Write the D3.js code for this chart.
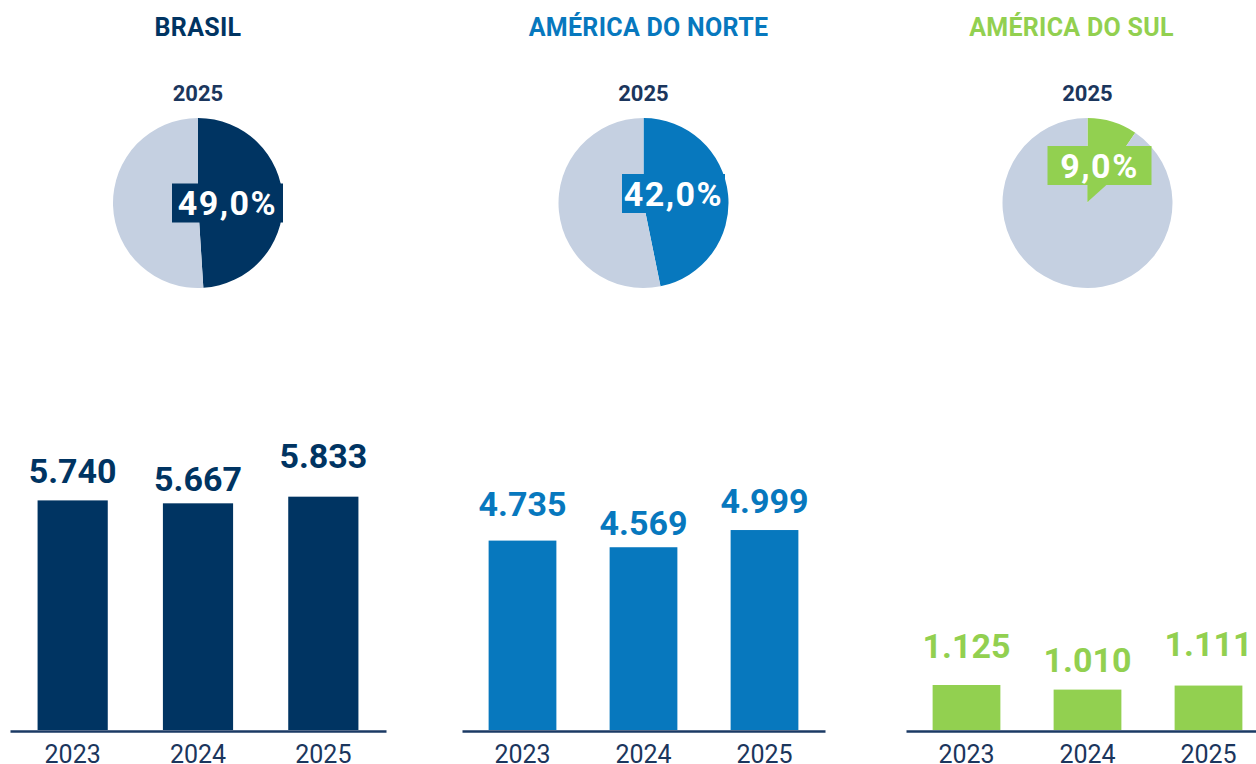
<!DOCTYPE html>
<html>
<head>
<meta charset="utf-8">
<script src="https://cdn.jsdelivr.net/npm/d3@7"></script>
<style>
    html, body { margin: 0; padding: 0; background: #fff; overflow: hidden; }
    svg { display: block; font-family: Roboto, 'Noto Sans', sans-serif; }
</style>
</head>
<body>
<svg class="chart" width="1256" height="764"></svg>
<script>
//#region Data
const years = ['2023', '2024', '2025'];
const regions = ['BRASIL', 'AMÉRICA DO NORTE', 'AMÉRICA DO SUL'];
const brasilValues = [5740, 5667, 5833];
const norteValues = [4735, 4569, 4999];
const sulValues = [1125, 1010, 1111];
const shareYear = '2025';
// printed share labels
const shares = [49.0, 42.0, 9.0];
// slice sizes as drawn in the picture (North America slice is drawn larger than its label)
const pieSlices = [49.0, 46.8, 9.5];
//#endregion

//#region Layout
const navy = '#003462';
const lightSlice = '#c5d0e1';
const panels = [
    { name: regions[0], values: brasilValues, share: shares[0], slice: pieSlices[0], color: navy,
      range: [10, 386], titleDx: 0, gaps: [17, 12, 29], boxDx: 29.5, boxDy: 0, boxW: 111, tail: false },
    { name: regions[1], values: norteValues, share: shares[1], slice: pieSlices[1], color: '#0778be',
      range: [462, 825], titleDx: 5, gaps: [25, 12, 17], boxDx: 30, boxDy: -9.5, boxW: 103, tail: false },
    { name: regions[2], values: sulValues, share: shares[2], slice: pieSlices[2], color: '#92d050',
      range: [906, 1269], titleDx: -16, gaps: [27, 18, 30], boxDx: 12, boxDy: -37.5, boxW: 104, tail: true }
];
const baseline = 731;
const pieY = 203;
const pieR = 85;
const boxH = 39;
//#endregion

const locale = d3.formatLocale({ decimal: ',', thousands: '.', grouping: [3], currency: ['R$', ''] });
const formatValue = locale.format(',');
const formatShare = d => locale.format(',.1f')(d) + '%';

const svg = d3.select('.chart');

const yScale = d3.scaleLinear()
    .domain([0, 6000])
    .range([baseline - 1, baseline - 241]);

const pie = d3.pie().sort(null).value(d => d);
const arc = d3.arc().innerRadius(0).outerRadius(pieR);

panels.forEach(p => {
    const g = svg.append('g');

    const xScale = d3.scaleBand()
        .domain(years)
        .range(p.range)
        .paddingInner(0.44)
        .paddingOuter(0.22);

    // pie sits over the middle of the panel
    const cx = d3.mean(p.range);

    // title
    g.append('text')
        .attr('x', cx + p.titleDx)
        .attr('y', 36)
        .attr('text-anchor', 'middle')
        .attr('fill', p.color)
        .style('font-size', '25px')
        .style('font-weight', 700)
        .style('letter-spacing', '0.3px')
        .text(p.name);

    // pie
    g.append('text')
        .attr('x', cx)
        .attr('y', 101)
        .attr('text-anchor', 'middle')
        .attr('fill', '#1b365d')
        .style('font-size', '22px')
        .style('font-weight', 700)
        .text(shareYear);

    const pieG = g.append('g')
        .attr('transform', `translate(${cx}, ${pieY})`);

    pieG.selectAll('path')
        .data(pie([p.slice, 100 - p.slice]))
        .join('path')
        .attr('d', arc)
        .attr('fill', (d, i) => i === 0 ? p.color : lightSlice);

    const bx = p.boxDx - p.boxW / 2;
    const by = p.boxDy - boxH / 2;

    pieG.append('rect')
        .attr('x', bx)
        .attr('y', by)
        .attr('width', p.boxW)
        .attr('height', boxH)
        .attr('fill', p.color);

    if (p.tail) {
        pieG.append('path')
            .attr('d', `M0,${by + boxH - 1}L20,${by + boxH - 1}L0,-1Z`)
            .attr('fill', p.color);
    }

    pieG.append('text')
        .attr('x', p.boxDx)
        .attr('y', p.boxDy)
        .attr('dy', '0.36em')
        .attr('text-anchor', 'middle')
        .attr('fill', '#fff')
        .style('font-size', '34px')
        .style('font-weight', 700)
        .style('letter-spacing', '1.5px')
        .text(formatShare(p.share));

    // bars
    const bars = years.map((year, i) => ({ year, value: p.values[i], gap: p.gaps[i] }));

    g.selectAll('rect.bar')
        .data(bars)
        .join('rect')
        .attr('class', 'bar')
        .attr('x', d => xScale(d.year))
        .attr('y', d => yScale(d.value))
        .attr('width', xScale.bandwidth())
        .attr('height', d => yScale(0) - yScale(d.value))
        .attr('fill', p.color);

    g.selectAll('text.value')
        .data(bars)
        .join('text')
        .attr('class', 'value')
        .attr('x', d => xScale(d.year) + xScale.bandwidth() / 2)
        .attr('y', d => yScale(d.value) - d.gap)
        .attr('text-anchor', 'middle')
        .attr('fill', p.color)
        .style('font-size', '34px')
        .style('font-weight', 700)
        .text(d => formatValue(d.value));

    const axis = g.append('g')
        .attr('transform', `translate(0, ${baseline})`)
        .call(d3.axisBottom(xScale).tickSize(0).tickSizeOuter(0).tickPadding(14));

    axis.select('.domain')
        .attr('stroke', '#1b3a64')
        .attr('stroke-width', 2.5);

    axis.selectAll('.tick text')
        .attr('fill', '#1b365d')
        .style('font-family', 'Roboto, sans-serif')
        .style('font-size', '25px')
        .style('font-weight', 400);
});
</script>
</body>
</html>
